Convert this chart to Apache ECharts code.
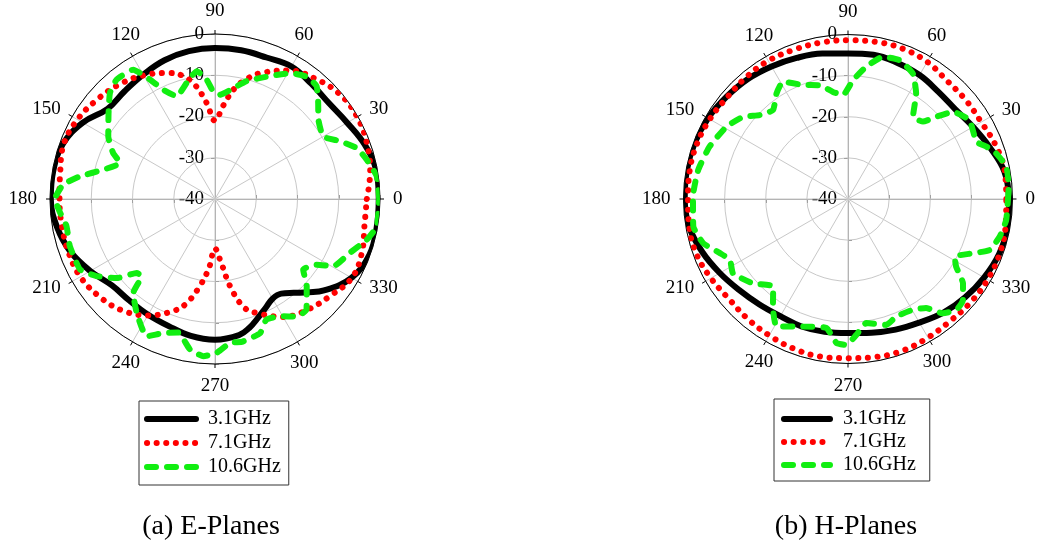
<!DOCTYPE html>
<html><head><meta charset="utf-8">
<script src="https://cdn.jsdelivr.net/npm/echarts@6/dist/echarts.min.js"></script>
<style>html,body{margin:0;padding:0;background:#fff}#c{width:1037px;height:549px}</style>
</head><body><div id="c"></div>
<script>
// ---------- data (dB vs angle in degrees) ----------
const seriesNames = ['3.1GHz', '7.1GHz', '10.6GHz'];
const captions = ['(a) E-Planes', '(b) H-Planes'];
const angleLabels = ['90','120','150','180','210','240','270','300','330','0','30','60'];
const radialMin = -40, radialMax = 0, radialStep = 10;

// E-plane 3.1 GHz
const eAng31 = [0,10,20,30,40,50,60,70,80,90,100,110,120,130,140,150,160,170,180,190,200,210,220,230,240,250,260,270,280,285,290,295,300,305,310,315,320,330,340,350,360];
const eVal31 = [-0.3,-0.3,-1.4,-3.0,-3.9,-3.6,-2.9,-3.5,-3.4,-3.4,-3.6,-4.2,-5.2,-5.9,-6.0,-3.0,-0.8,-0.2,-0.2,-1.1,-2.7,-5.1,-7.4,-7.8,-7.6,-7.2,-6.3,-5.9,-6.5,-7.7,-9.4,-10.9,-12.1,-12.0,-10.3,-8.0,-5.5,-1.8,-0.2,-0.2,-0.3];
// E-plane 7.1 GHz
const eAng71 = [0,10,20,30,40,50,60,70,75,80,85,90,95,100,105,110,120,130,140,150,160,170,180,190,200,210,220,230,240,250,255,260,265,270,275,280,285,290,300,310,320,330,340,350,360];
const eVal71 = [-3.2,-1.8,-0.8,-0.2,-0.5,-2.0,-4.0,-7.5,-9.8,-12.8,-17.3,-21.0,-16.6,-11.9,-9.0,-7.5,-5.4,-3.8,-2.6,-1.5,-1.0,-1.9,-2.3,-2.3,-2.2,-2.3,-3.3,-4.8,-7.4,-11.2,-14.0,-18.5,-23.2,-28.0,-25.0,-18.3,-12.8,-10.6,-7.0,-5.0,-3.5,-1.7,-2.1,-3.2,-3.2];
// E-plane 10.6 GHz
const eAng106 = [0,8,14.5,19.8,24.8,30,37.5,43,48,53,59,66,75,82,87.3,91,94,98,101.7,110.5,115.3,118.6,122.3,129.5,134.7,141,149.6,155.7,159.2,165.3,170.5,174.6,180,185,190.4,198,207.6,213,218.8,223.4,226.5,229,235.5,243.5,249,254.6,260.6,265.8,270.6,276,281,288.6,293,299,304.8,309.6,316.4,321.3,327.1,330.4,338.2,345,350.4,360];
const eVal106 = [-0.2,-0.4,-2.0,-3.5,-6.6,-9.7,-8.4,-5.8,-3.2,-2.9,-4.4,-7.4,-10.4,-13.3,-14.7,-13.9,-11.0,-8.7,-10.0,-13.4,-10.7,-7.0,-2.9,-2.5,-3.8,-6.8,-10.0,-12.9,-15.4,-12.0,-6.8,-3.0,-1.2,-2.3,-3.4,-3.0,-3.1,-5.7,-9.4,-13.9,-14.1,-9.8,-6.5,-2.8,-5.2,-6.4,-3.0,-1.8,-2.7,-4.9,-4.8,-5.7,-8.2,-7.5,-5.3,-5.2,-9.3,-12.6,-10.7,-7.0,-4.8,-1.9,-0.2,-0.2];

// H-plane 3.1 GHz
const hAng31 = [0,10,20,30,40,50,60,70,80,90,100,110,120,130,140,150,160,170,180,190,200,210,220,230,240,250,260,270,280,290,300,310,320,330,340,350,360];
const hVal31 = [-0.8,-1.4,-3.3,-4.9,-6.0,-5.9,-5.2,-4.8,-4.4,-4.6,-4.1,-3.5,-2.8,-2.0,-1.4,-0.7,-0.3,-0.2,-0.3,-0.8,-2.3,-4.0,-5.5,-6.5,-7.1,-7.0,-7.2,-7.4,-7.0,-6.2,-5.3,-3.9,-2.8,-1.8,-0.9,-0.6,-0.8];
// H-plane 7.1 GHz
const hAng71 = [0,10,20,30,40,50,60,70,80,90,100,110,120,130,140,150,160,170,180,190,200,210,220,230,240,250,260,270,280,290,300,310,320,330,340,350,360];
const hVal71 = [-1.5,-1.3,-1.8,-2.6,-2.6,-2.5,-1.5,-1.1,-1.2,-1.4,-1.4,-1.4,-1.2,-1.4,-1.6,-1.2,-0.9,-0.9,-1.1,-0.8,-0.8,-1.5,-2.2,-2.0,-1.7,-1.3,-1.1,-1.3,-1.0,-0.8,-1.1,-1.3,-1.0,-0.8,-0.8,-1.1,-1.5];
// H-plane 10.6 GHz
const hAng106 = [0,4.4,11.5,17.1,20.7,24,33,39.7,43,45.9,51.7,57.1,62.6,69.6,76.2,82.1,87.6,92.8,98,103.9,111.5,119,124.1,130.1,136.4,141.9,149.3,159.3,169,179,190,197,202.9,207.3,212.9,221.6,229.5,235.1,240.7,250.6,260.5,265.4,269.3,273.5,278.4,286.9,292.3,300.3,305.6,309.7,314.3,318.7,323.7,328,331.6,336.5,340.2,346,352.4,360];
const hVal106 = [-1.1,-0.8,-0.7,-2.3,-4.0,-5.8,-4.8,-6.8,-10.7,-13.8,-14.5,-9.5,-5.7,-4.0,-4.4,-7.5,-11.1,-14.7,-13.7,-11.5,-10.2,-7.4,-9.0,-11.7,-10.4,-7.6,-5.6,-4.0,-2.9,-2.3,-1.8,-3.2,-6.2,-7.7,-6.7,-9.1,-12.0,-8.1,-4.5,-7.1,-8.2,-4.9,-4.5,-6.9,-9.5,-8.0,-9.1,-8.8,-7.4,-3.9,-2.3,-2.8,-5.3,-9.0,-10.5,-6.9,-3.4,-2.0,-1.2,-1.1];

// ---------- styling ----------
const FONT = "'Liberation Serif','Times New Roman',serif";
const GRID = '#c8c8c8', AXIS = '#a0a0a0';
const lineStyles = [
  {color: '#000000', width: 6, type: 'solid', smooth: 0.4},
  {color: '#ff0000', width: 6, type: [0.1, 9.5], smooth: 0.4},
  {color: '#11ee11', width: 6, type: [9, 11], smooth: 0.15}
];
const labelNudge = {
  '120': [0, -14, 0, 0], '240': [0, -14, 0, 0],
  '60': [0, 0, 0, -9.5], '300': [0, 0, 0, -14],
  '30': [0, 0, -9, 0], '150': [0, 0, -9, 0],
  '210': [-9, 0, 0, 0], '330': [-9, 0, 0, 0]
};
const panels = [
  {center: [215, 199], radius: 165, capX: 211,
   data: [[eAng31, eVal31], [eAng71, eVal71], [eAng106, eVal106]],
   legend: {left: 139, top: 401, padding: [8, 8, 8, 5], itemWidth: 49, itemGap: 4, textPad: 7}},
  {center: [848, 199], radius: 164.5, capX: 846,
   data: [[hAng31, hVal31], [hAng71, hVal71], [hAng106, hVal106]],
   legend: {left: 774, top: 399, padding: [10, 14, 6, 7], itemWidth: 46, itemGap: 3, textPad: 8}}
];

const polar = [], angleAxis = [], radiusAxis = [], series = [], legend = [], title = [];
panels.forEach((p, pi) => {
  const base = polar.length;
  polar.push({center: p.center, radius: p.radius});
  angleAxis.push({
    polarIndex: base, type: 'value', min: 0, max: 360, interval: 30, startAngle: 0, clockwise: false, z: 1,
    axisLine: {show: true, lineStyle: {color: '#000', width: 1}},
    axisTick: {show: true, length: 4, lineStyle: {color: '#000'}},
    axisLabel: {show: false},
    splitLine: {show: true, lineStyle: {color: GRID, width: 1}}
  });
  radiusAxis.push({
    polarIndex: base, type: 'value', min: radialMin, max: radialMax, interval: radialStep, z: 0,
    axisLine: {show: true, lineStyle: {color: AXIS}},
    axisTick: {show: true, length: 4, lineStyle: {color: AXIS}},
    axisLabel: {show: false},
    splitLine: {show: true, lineStyle: {color: GRID, width: 1}}
  });
  [90, 180, 270].forEach(sa => {
    const idx = polar.length;
    const isLabel = sa === 90;
    polar.push({center: p.center, radius: p.radius});
    if (isLabel) {
      angleAxis.push({
        polarIndex: idx, type: 'category', boundaryGap: false, startAngle: 90, clockwise: false,
        data: angleLabels.map(t => labelNudge[t] ? {value: t, textStyle: {padding: labelNudge[t]}} : t),
        axisLine: {show: false}, axisTick: {show: false}, splitLine: {show: false},
        axisLabel: {show: true, interval: 0, margin: 13, fontFamily: FONT, fontSize: 19, color: '#000'}
      });
    } else {
      angleAxis.push({
        polarIndex: idx, type: 'value', min: 0, max: 360, startAngle: sa, clockwise: false,
        axisLine: {show: false}, axisTick: {show: false}, axisLabel: {show: false}, splitLine: {show: false}
      });
    }
    radiusAxis.push({
      polarIndex: idx, type: 'value', min: radialMin, max: radialMax, interval: radialStep,
      axisLine: {show: true, lineStyle: {color: AXIS}},
      axisTick: {show: true, length: 4, lineStyle: {color: AXIS}},
      axisLabel: isLabel ? {show: true, margin: 11, fontFamily: FONT, fontSize: 19, color: '#000', showMinLabel: true, showMaxLabel: true} : {show: false},
      splitLine: {show: false}
    });
  });
  p.data.forEach((d, k) => {
    const s = lineStyles[k];
    series.push({
      type: 'line', name: seriesNames[k], coordinateSystem: 'polar', polarIndex: base,
      data: d[0].map((a, i) => [d[1][i], a]),
      symbol: 'none', showSymbol: false, smooth: s.smooth, animation: false, z: 2 + k,
      lineStyle: {color: s.color, width: s.width, type: s.type, cap: 'round', join: 'round'},
      itemStyle: {color: s.color}
    });
  });
  const L = p.legend;
  legend.push({
    left: L.left, top: L.top, orient: 'vertical', padding: L.padding,
    itemWidth: L.itemWidth, itemHeight: 12, itemGap: L.itemGap,
    borderColor: '#333', borderWidth: 1, selectedMode: false,
    data: seriesNames,
    textStyle: {fontFamily: FONT, fontSize: 20, color: '#000', lineHeight: 20, padding: [0, 0, 0, L.textPad]},
    lineStyle: {width: 6},
    itemStyle: {opacity: 0}
  });
  title.push({
    text: captions[pi], left: p.capX, top: 513, textAlign: 'center', textVerticalAlign: 'top', padding: 0,
    textStyle: {fontFamily: FONT, fontSize: 28, fontWeight: 'normal', color: '#000'}
  });
});

const chart = echarts.init(document.getElementById('c'));
chart.setOption({
  backgroundColor: '#fff',
  animation: false,
  title, legend, polar, angleAxis, radiusAxis, series
});
</script>
</body></html>
